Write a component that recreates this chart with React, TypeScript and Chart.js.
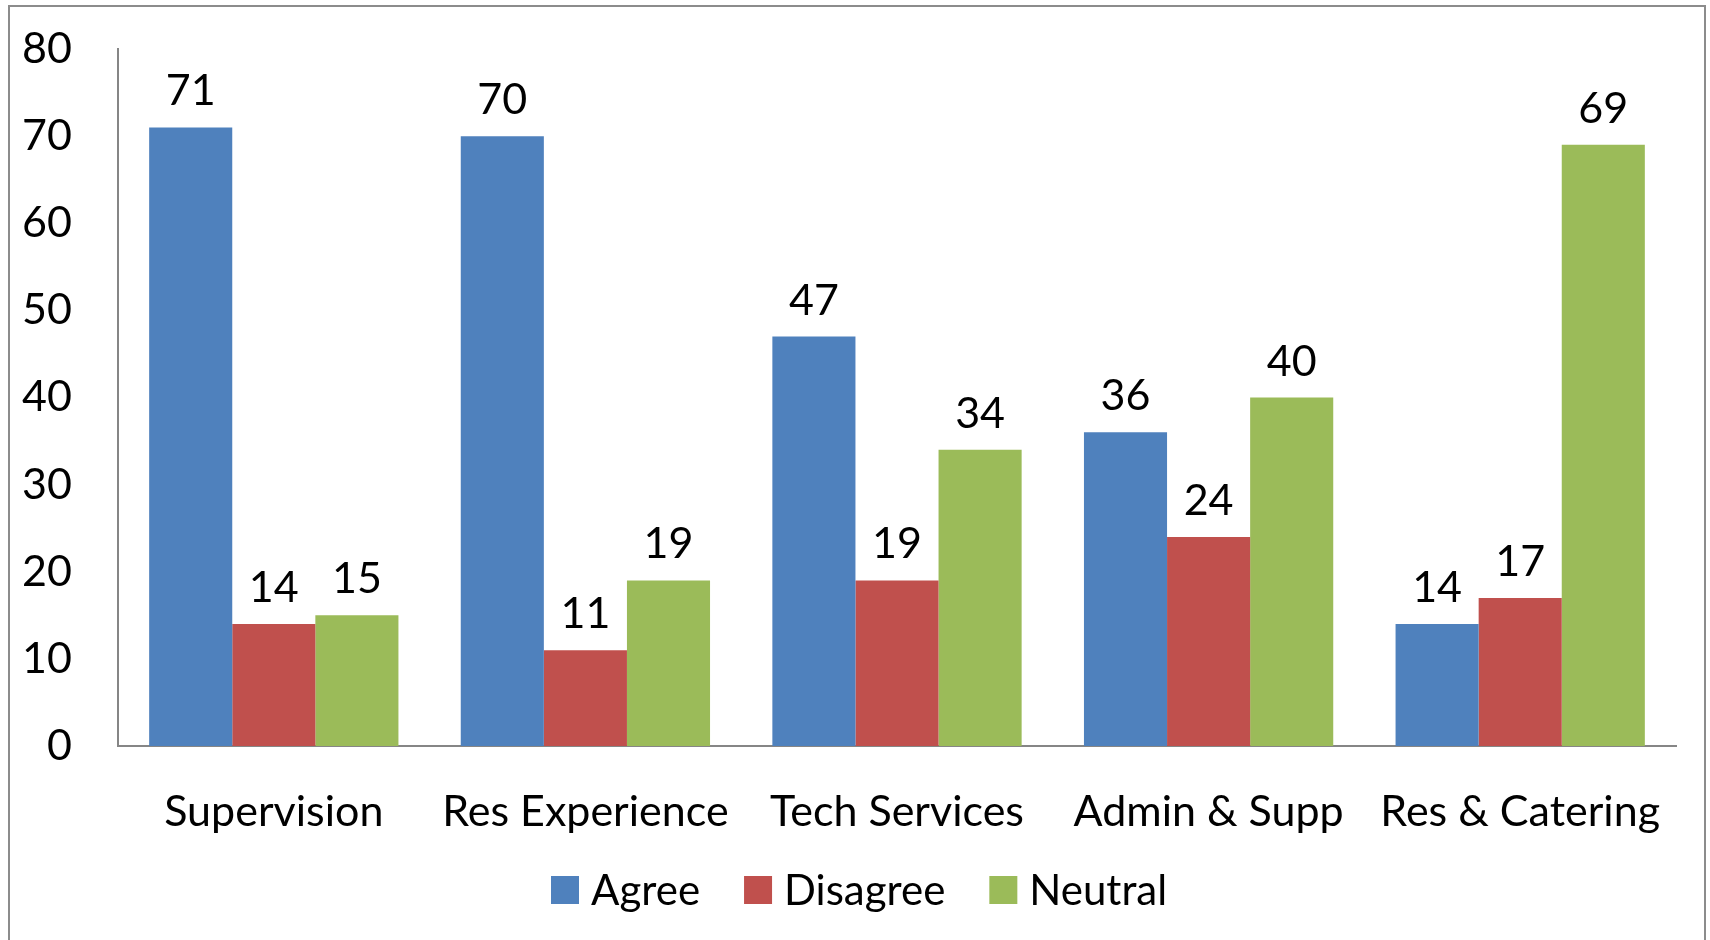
import React, { useEffect, useRef } from "react";
import { Chart, registerables } from "chart.js";

Chart.register(...registerables);

const categories = ["Supervision", "Res Experience", "Tech Services", "Admin & Supp", "Res & Catering"];
const agree = [71, 70, 47, 36, 14];
const disagree = [14, 11, 19, 24, 17];
const neutral = [15, 19, 34, 40, 69];
const yTicks = [0, 10, 20, 30, 40, 50, 60, 70, 80];
const seriesNames = ["Agree", "Disagree", "Neutral"];
const seriesColors = ["#4F81BD", "#C0504D", "#9BBB59"];

const FONT = "Lato, 'Open Sans', sans-serif";
const FS = 43;
const LEGEND_FS = 42;

const borderPlugin = {
  id: "outerBorder",
  beforeDraw(chart: any) {
    const ctx = chart.ctx;
    ctx.save();
    ctx.fillStyle = "#ffffff";
    ctx.fillRect(0, 0, chart.width, chart.height);
    ctx.strokeStyle = "#8c8c8c";
    ctx.lineWidth = 2;
    ctx.strokeRect(9, 6, 1696, 1000);
    ctx.restore();
  },
};

const valueLabels = {
  id: "valueLabels",
  afterDatasetsDraw(chart: any) {
    const ctx = chart.ctx;
    ctx.save();
    ctx.font = `${FS}px ${FONT}`;
    ctx.fillStyle = "#000000";
    ctx.textAlign = "center";
    ctx.textBaseline = "alphabetic";
    chart.data.datasets.forEach((ds: any, i: number) => {
      const meta = chart.getDatasetMeta(i);
      meta.data.forEach((bar: any, j: number) => {
        ctx.fillText(String(ds.data[j]), bar.x, bar.y - 22);
      });
    });
    ctx.restore();
  },
};

const customLegend = {
  id: "customLegend",
  afterDraw(chart: any) {
    const ctx = chart.ctx;
    ctx.save();
    ctx.font = `${LEGEND_FS}px ${FONT}`;
    ctx.textBaseline = "middle";
    ctx.textAlign = "left";
    const box = 28;
    const cy = 890;
    let x = 551;
    chart.data.datasets.forEach((ds: any) => {
      ctx.fillStyle = ds.backgroundColor;
      ctx.fillRect(x, cy - box / 2, box, box);
      ctx.fillStyle = "#000000";
      const tx = x + box + 12;
      ctx.fillText(ds.label, tx, cy + 1);
      x = tx + ctx.measureText(ds.label).width + 44;
    });
    ctx.restore();
  },
};

export default function App() {
  const ref = useRef<HTMLCanvasElement | null>(null);
  useEffect(() => {
    if (!ref.current) return;
    Chart.defaults.font.family = FONT;
    const chart = new Chart(ref.current, {
      type: "bar",
      data: {
        labels: categories,
        datasets: [
          { label: seriesNames[0], data: agree, backgroundColor: seriesColors[0] },
          { label: seriesNames[1], data: disagree, backgroundColor: seriesColors[1] },
          { label: seriesNames[2], data: neutral, backgroundColor: seriesColors[2] },
        ],
      },
      options: {
        responsive: false,
        animation: false,
        layout: { padding: { top: 49, right: 34, left: 0, bottom: 105 } },
        datasets: { bar: { categoryPercentage: 0.8, barPercentage: 1.0 } },
        plugins: {
          legend: { display: false },
          tooltip: { enabled: false },
        },
        scales: {
          x: {
            grid: { display: false, drawTicks: false },
            border: { display: true, color: "#868686", width: 2 },
            ticks: { color: "#000000", font: { size: FS, family: FONT }, padding: 40, maxRotation: 0 },
            afterFit(scale: any) {
              scale.height = 89;
              scale.paddingLeft = 0;
              scale.paddingRight = 0;
            },
          },
          y: {
            min: 0,
            max: 80,
            afterBuildTicks(scale: any) {
              scale.ticks = yTicks.map((v) => ({ value: v }));
            },
            grid: { display: false, drawTicks: false },
            border: { display: true, color: "#868686", width: 2 },
            ticks: { color: "#000000", font: { size: FS, family: FONT }, padding: 46 },
            afterFit(scale: any) {
              scale.width = 118;
              scale.paddingTop = 0;
              scale.paddingBottom = 0;
            },
          },
        },
      },
      plugins: [borderPlugin, valueLabels, customLegend],
    });
    return () => chart.destroy();
  }, []);
  return (
    <div style={{ position: "fixed", left: 0, top: 0, width: 1710, height: 940 }}>
      <canvas ref={ref} width={1710} height={940} style={{ display: "block", width: 1710, height: 940 }} />
    </div>
  );
}
